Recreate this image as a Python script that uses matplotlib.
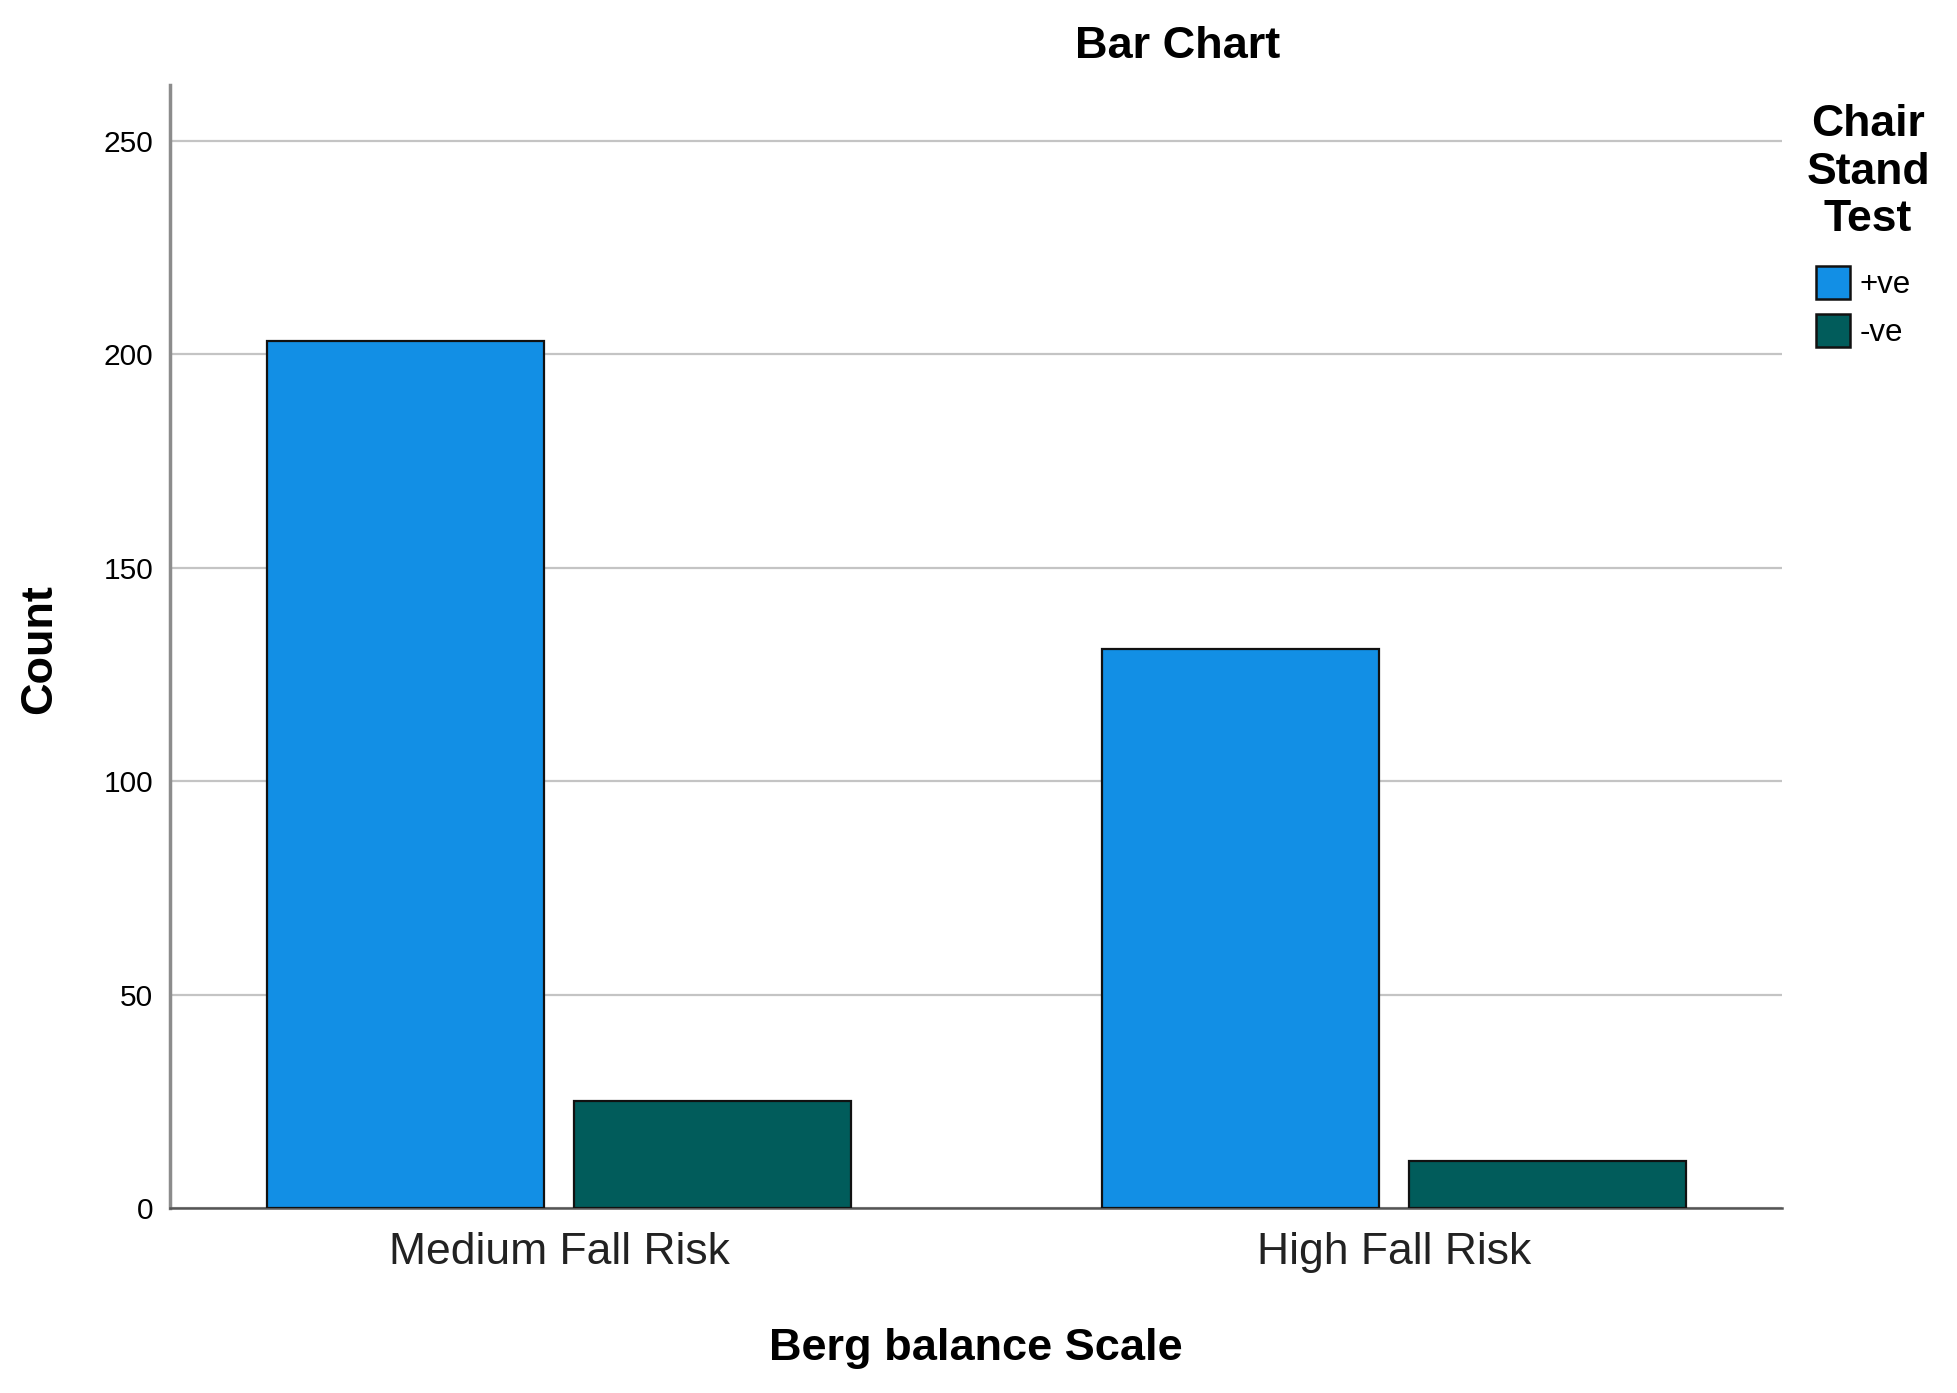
import matplotlib
matplotlib.use("Agg")
import matplotlib.pyplot as plt
from matplotlib.patches import Patch
import numpy as np

plt.rcParams['font.family'] = ['Liberation Sans', 'DejaVu Sans']

categories = ["Medium Fall Risk", "High Fall Risk"]
series_names = ["+ve", "-ve"]
pos_values = [203, 131]
neg_values = [25, 11]
y_ticks = [0, 50, 100, 150, 200, 250]
colors = ["#128FE5", "#015C5B"]

W, H = 1957, 1393
fig = plt.figure(figsize=(W / 100, H / 100), dpi=100)
ax = fig.add_axes([170 / W, 1 - 1208 / H, (1782 - 170) / W, (1208 - 85) / H])

x = np.arange(len(categories))
bw = 0.332
off = 0.184
ax.bar(x - off, pos_values, width=bw, color=colors[0], edgecolor="#111111", linewidth=1.6, zorder=3)
ax.bar(x + off, neg_values, width=bw, color=colors[1], edgecolor="#111111", linewidth=1.6, zorder=3)

ax.set_xlim(-0.466, 1.465)
ax.set_ylim(0, 263)
ax.set_yticks(y_ticks)
ax.set_yticklabels([str(v) for v in y_ticks], fontsize=21.5)
ax.set_xticks(x)
ax.set_xticklabels(categories, fontsize=32, color="#222222")
ax.tick_params(axis='y', length=0, pad=12)
ax.tick_params(axis='x', length=0, pad=17)
ax.yaxis.grid(True, color="#C4C4C4", linewidth=1.6, zorder=0)
ax.set_axisbelow(True)
for s in ["top", "right"]:
    ax.spines[s].set_visible(False)
ax.spines["left"].set_color("#8C8C8C")
ax.spines["left"].set_linewidth(2.5)
ax.spines["bottom"].set_color("#555555")
ax.spines["bottom"].set_linewidth(1.8)

ax.set_xlabel("Berg balance Scale", fontsize=32.5, fontweight="bold", labelpad=40)
fig.text(40 / W, 1 - 649 / H, "Count", rotation=90, fontsize=32.5, fontweight="bold",
         ha="center", va="center")
fig.text(1178 / W, 1 - 46 / H, "Bar Chart", fontsize=32.5, fontweight="bold",
         ha="center", va="center")

fig.text(1868 / W, 1 - 172 / H, "Chair\nStand\nTest", fontsize=32, fontweight="bold",
         ha="center", va="center", linespacing=1.2)

handles = [Patch(facecolor=colors[0], edgecolor="#111111", linewidth=1.8),
           Patch(facecolor=colors[1], edgecolor="#111111", linewidth=1.8)]
fig.legend(handles, series_names, loc="upper left", bbox_to_anchor=(1816 / W, 1 - 266 / H),
           frameon=False, fontsize=22.5, handlelength=1.1, handleheight=1.25,
           handletextpad=0.3, labelspacing=0.45, borderpad=0, borderaxespad=0)

fig.savefig("out.png", dpi=100)
